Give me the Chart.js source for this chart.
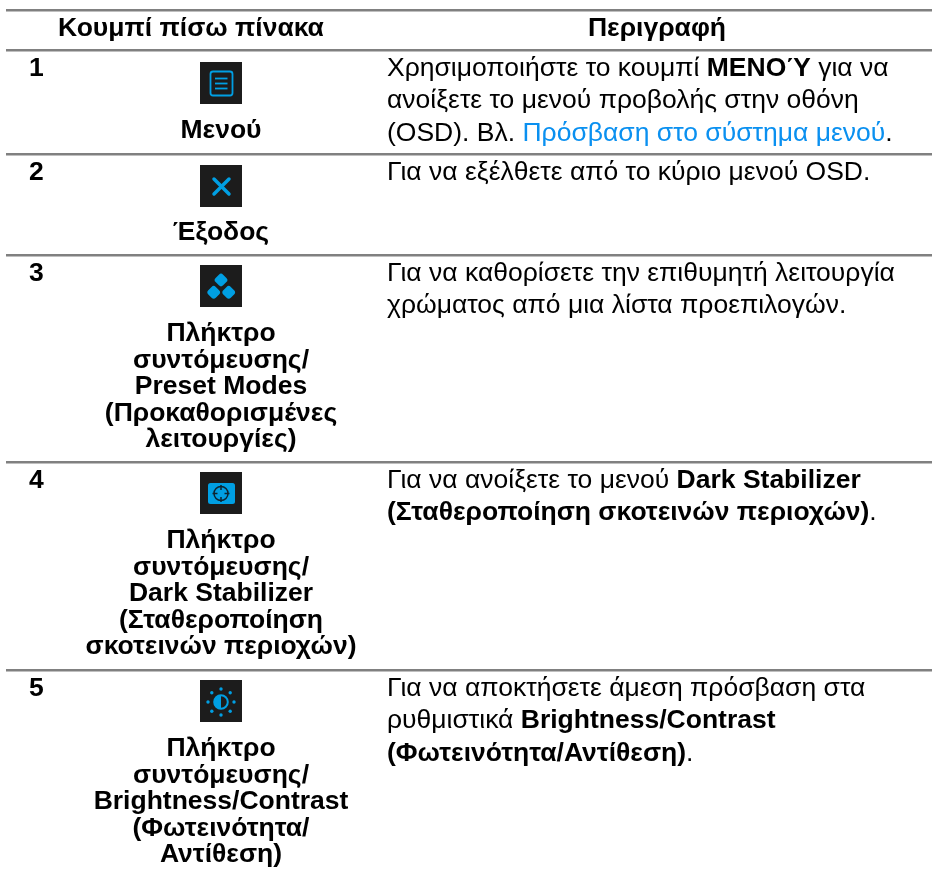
<!DOCTYPE html>
<html lang="el">
<head>
<meta charset="utf-8">
<title>Κουμπί πίσω πίνακα</title>
<script src="https://cdn.jsdelivr.net/npm/chart.js@4"></script>
<style>
    html, body { margin: 0; padding: 0; background: #fff; }
    canvas { display: block; }
</style>
</head>
<body>
<canvas id="tableChart" width="932" height="872"></canvas>
<script>
const columnHeaders = ['Κουμπί πίσω πίνακα', 'Περιγραφή'];
const rowNumbers = ['1', '2', '3', '4', '5'];
const rowTitles = [
    ['Μενού'],
    ['Έξοδος'],
    ['Πλήκτρο', 'συντόμευσης/', 'Preset Modes', '(Προκαθορισμένες', 'λειτουργίες)'],
    ['Πλήκτρο', 'συντόμευσης/', 'Dark Stabilizer', '(Σταθεροποίηση', 'σκοτεινών περιοχών)'],
    ['Πλήκτρο', 'συντόμευσης/', 'Brightness/Contrast', '(Φωτεινότητα/', 'Αντίθεση)']
];
// each line is a list of runs: [text, kind]
const rowDescriptions = [
    [
        [['Χρησιμοποιήστε το κουμπί ', ''], ['ΜΕΝΟΎ', 'b'], [' για να', '']],
        [['ανοίξετε το μενού προβολής στην οθόνη', '']],
        [['(OSD). Βλ. ', ''], ['Πρόσβαση στο σύστημα μενού', 'l'], ['.', '']]
    ],
    [
        [['Για να εξέλθετε από το κύριο μενού OSD.', '']]
    ],
    [
        [['Για να καθορίσετε την επιθυμητή λειτουργία', '']],
        [['χρώματος από μια λίστα προεπιλογών.', '']]
    ],
    [
        [['Για να ανοίξετε το μενού ', ''], ['Dark Stabilizer', 'b']],
        [['(Σταθεροποίηση σκοτεινών περιοχών)', 'b'], ['.', '']]
    ],
    [
        [['Για να αποκτήσετε άμεση πρόσβαση στα', '']],
        [['ρυθμιστικά ', ''], ['Brightness/Contrast', 'b']],
        [['(Φωτεινότητα/Αντίθεση)', 'b'], ['.', '']]
    ]
];
// table rules, in page units from the top
const ruleLevels = [10, 50, 154, 255, 462, 670];

const ICON_SIZE = 42;
const ICON_BLUE = '#009fe3';
const ICON_DARK = '#1c1c1c';
const FONT = '"Liberation Sans", Arial, sans-serif';

function makeIcon(paint) {
    const canvas = document.createElement('canvas');
    canvas.width = ICON_SIZE;
    canvas.height = ICON_SIZE;
    const ctx = canvas.getContext('2d');
    ctx.fillStyle = ICON_DARK;
    ctx.fillRect(0, 0, ICON_SIZE, ICON_SIZE);
    ctx.fillStyle = ICON_BLUE;
    ctx.strokeStyle = ICON_BLUE;
    paint(ctx);
    return canvas;
}

function paintMenu(ctx) {
    ctx.lineWidth = 1.8;
    ctx.beginPath();
    ctx.roundRect(10.5, 9.5, 22, 24, 2.5);
    ctx.stroke();
    ctx.lineWidth = 1.8;
    [16.5, 21.5, 26.5].forEach(y => {
        ctx.beginPath();
        ctx.moveTo(15, y);
        ctx.lineTo(27.5, y);
        ctx.stroke();
    });
}

function paintExit(ctx) {
    ctx.lineWidth = 3.5;
    ctx.lineCap = 'round';
    ctx.beginPath();
    ctx.moveTo(14, 14);
    ctx.lineTo(29, 29);
    ctx.moveTo(29, 14);
    ctx.lineTo(14, 29);
    ctx.stroke();
}

function paintPresets(ctx) {
    [[21, 15], [13.7, 27.3], [28.7, 27.3]].forEach(([x, y]) => {
        ctx.save();
        ctx.translate(x, y);
        ctx.rotate(Math.PI / 4);
        ctx.beginPath();
        ctx.roundRect(-5.3, -5.3, 10.6, 10.6, 3);
        ctx.fill();
        ctx.restore();
    });
}

function paintDark(ctx) {
    ctx.beginPath();
    ctx.roundRect(8, 11, 27, 21, 2.5);
    ctx.fill();
    ctx.strokeStyle = '#0e2430';
    ctx.lineWidth = 1.5;
    ctx.beginPath();
    ctx.arc(21, 21.5, 7, 0, Math.PI * 2);
    ctx.stroke();
    ctx.beginPath();
    ctx.moveTo(21, 13);
    ctx.lineTo(21, 18);
    ctx.moveTo(21, 25);
    ctx.lineTo(21, 30);
    ctx.moveTo(12.5, 21.5);
    ctx.lineTo(17.5, 21.5);
    ctx.moveTo(24.5, 21.5);
    ctx.lineTo(29.5, 21.5);
    ctx.stroke();
}

function paintBrightness(ctx) {
    const cx = 21;
    const cy = 22;
    ctx.lineWidth = 2;
    ctx.beginPath();
    ctx.arc(cx, cy, 6.8, 0, Math.PI * 2);
    ctx.stroke();
    ctx.beginPath();
    ctx.arc(cx, cy, 6.8, Math.PI / 2, Math.PI * 1.5);
    ctx.fill();
    for (let i = 0; i < 8; i++) {
        const a = i * Math.PI / 4;
        ctx.beginPath();
        ctx.arc(cx + Math.cos(a) * 13, cy + Math.sin(a) * 13, 1.7, 0, Math.PI * 2);
        ctx.fill();
    }
}

const iconPainters = [paintMenu, paintExit, paintPresets, paintDark, paintBrightness];

const COLUMN_NUMBER = 29;
const COLUMN_TITLE = 221;
const COLUMN_TEXT = 387;
const HEADER_LEFT_CENTER = 191;
const HEADER_RIGHT_CENTER = 657;
const TITLE_LINE = 26.6;
const TEXT_LINE = 32.5;
const FONT_SIZE = 26.5;
// distance from a row's top rule
const ICON_OFFSETS = [33, 32, 31, 31, 31];
const TITLE_OFFSETS = [88, 86, 86, 86, 86];

function bodyFont(kind) {
    return `${kind === 'b' ? 'bold ' : ''}${FONT_SIZE}px ${FONT}`;
}

// draws all the table text through the chart's scales
const tableTextPlugin = {
    id: 'tableText',
    afterDatasetsDraw(chart) {
        const { ctx, scales: { x, y } } = chart;
        ctx.save();
        ctx.textBaseline = 'alphabetic';
        ctx.fillStyle = '#000';

        ctx.font = bodyFont('b');
        ctx.textAlign = 'center';
        ctx.fillText(columnHeaders[0], x.getPixelForValue(HEADER_LEFT_CENTER), y.getPixelForValue(ruleLevels[0] + 26));
        ctx.fillText(columnHeaders[1], x.getPixelForValue(HEADER_RIGHT_CENTER), y.getPixelForValue(ruleLevels[0] + 26));

        rowNumbers.forEach((num, i) => {
            const top = ruleLevels[i + 1];
            ctx.font = bodyFont('b');
            ctx.textAlign = 'left';
            ctx.fillText(num, x.getPixelForValue(COLUMN_NUMBER), y.getPixelForValue(top + 26));

            ctx.textAlign = 'center';
            rowTitles[i].forEach((line, j) => {
                ctx.fillText(line, x.getPixelForValue(COLUMN_TITLE), y.getPixelForValue(top + TITLE_OFFSETS[i] + j * TITLE_LINE));
            });

            ctx.textAlign = 'left';
            rowDescriptions[i].forEach((runs, j) => {
                let px = x.getPixelForValue(COLUMN_TEXT);
                const py = y.getPixelForValue(top + 25.5 + j * TEXT_LINE);
                runs.forEach(([text, kind]) => {
                    ctx.font = bodyFont(kind);
                    ctx.fillStyle = kind === 'l' ? '#0a90f0' : '#000';
                    ctx.fillText(text, px, py);
                    px += ctx.measureText(text).width;
                });
            });
            ctx.fillStyle = '#000';
        });
        ctx.restore();
    }
};

new Chart(document.getElementById('tableChart'), {
    type: 'scatter',
    data: {
        datasets: [{
            label: 'Κουμπιά',
            data: rowNumbers.map((_, i) => ({ x: COLUMN_TITLE, y: ruleLevels[i + 1] + ICON_OFFSETS[i] })),
            pointStyle: iconPainters.map(makeIcon),
            pointRadius: 5
        }]
    },
    options: {
        responsive: false,
        animation: false,
        events: [],
        layout: { autoPadding: false, padding: { left: 6, top: 0, right: 0, bottom: 0 } },
        plugins: {
            legend: { display: false },
            tooltip: { enabled: false },
            title: { display: false }
        },
        scales: {
            x: { type: 'linear', display: false, min: 6, max: 932 },
            y: {
                type: 'linear',
                reverse: true,
                min: 0,
                max: 872,
                afterBuildTicks: axis => {
                    axis.ticks = ruleLevels.map(value => ({ value }));
                },
                border: { display: false },
                ticks: { display: false },
                grid: { color: '#808080', lineWidth: 2.5, drawTicks: false }
            }
        }
    },
    plugins: [tableTextPlugin]
});
</script>
</body>
</html>
